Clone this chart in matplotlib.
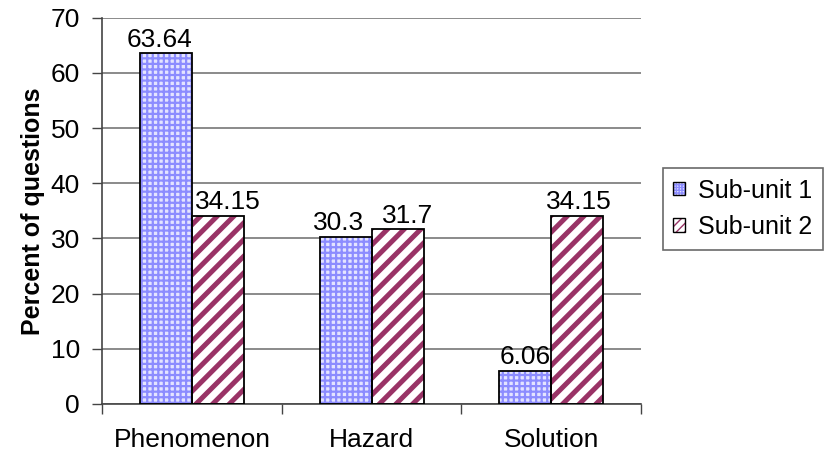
import numpy as np
import matplotlib.pyplot as plt

categories = ['Phenomenon', 'Hazard', 'Solution']
sub_unit_1 = [63.64, 30.3, 6.06]
sub_unit_2 = [34.15, 31.7, 34.15]
series_names = ['Sub-unit 1', 'Sub-unit 2']
y_ticks = [0, 10, 20, 30, 40, 50, 60, 70]

plt.rcParams['font.family'] = ['Liberation Sans', 'DejaVu Sans']

BLUE = '#8c8cff'
PLUM = '#993366'
FS = 19
# sideways nudge of the value labels, in points
nudge_1 = [-5, -5, 0]
nudge_2 = [7, 7, 1.5]


def hatch_lw(patch, lw):
    if hasattr(patch, 'set_hatch_linewidth'):
        patch.set_hatch_linewidth(lw)
    else:
        patch._hatch_linewidth = lw


fig = plt.figure(figsize=(8.25, 4.57), dpi=100)
ax = fig.add_axes([0.124, 0.116, 0.653, 0.845])

x = np.arange(len(categories))
width = 0.29

# hatched fills first, then plain black outlines on top
b1 = ax.bar(x - width / 2, sub_unit_1, width, facecolor='#e4e4ff',
            edgecolor=BLUE, hatch='+++', linewidth=0, zorder=2)
b2 = ax.bar(x + width / 2, sub_unit_2, width, facecolor='white',
            edgecolor=PLUM, hatch='//', linewidth=0, zorder=2)
for p in b1:
    hatch_lw(p, 1.6)
for p in b2:
    hatch_lw(p, 3.6)
ax.bar(x - width / 2, sub_unit_1, width, fill=False, edgecolor='black',
       linewidth=1.3, zorder=3)
ax.bar(x + width / 2, sub_unit_2, width, fill=False, edgecolor='black',
       linewidth=1.3, zorder=3)

for xs, vals, nudges in ((x - width / 2, sub_unit_1, nudge_1),
                         (x + width / 2, sub_unit_2, nudge_2)):
    for xi, v, dx in zip(xs, vals, nudges):
        ax.annotate(f'{v:g}', (xi, v), xytext=(dx, 1),
                    textcoords='offset points', ha='center', va='bottom',
                    fontsize=FS)

ax.set_xlim(-0.5, len(categories) - 0.5)
ax.set_ylim(0, 70)
ax.set_yticks(y_ticks)
ax.set_xticks(x)
ax.set_xticklabels(categories, fontsize=FS)
ax.set_xticks(np.arange(len(categories) + 1) - 0.5, minor=True)
ax.tick_params(axis='x', which='major', length=0, pad=17)
ax.tick_params(axis='x', which='minor', length=7, width=1, color='#444444')
ax.tick_params(axis='y', labelsize=FS, length=7, width=1, color='#444444',
               pad=9)
ax.set_ylabel('Percent of questions', fontsize=18, fontweight='bold',
              labelpad=4)

ax.yaxis.grid(True, color='#777777', linewidth=1.2, zorder=0)
ax.set_axisbelow(True)
for s in ('top', 'right'):
    ax.spines[s].set_visible(False)
for s in ('left', 'bottom'):
    ax.spines[s].set_color('#444444')
    ax.spines[s].set_linewidth(1.2)

# legend keys: hatched square with a black outline laid over it
h1 = plt.Rectangle((0, 0), 1, 1, facecolor='#e4e4ff', edgecolor=BLUE,
                   hatch='++++++', linewidth=0)
h2 = plt.Rectangle((0, 0), 1, 1, facecolor='white', edgecolor=PLUM,
                   hatch='////', linewidth=0)
hatch_lw(h2, 2.5)
o1 = plt.Rectangle((0, 0), 1, 1, fill=False, edgecolor='black', linewidth=1)
o2 = plt.Rectangle((0, 0), 1, 1, fill=False, edgecolor='black', linewidth=1)
leg = fig.legend([(h1, o1), (h2, o2)], series_names, loc='center left',
                 bbox_to_anchor=(0.8036, 0.543), fontsize=18, frameon=True,
                 fancybox=False, handlelength=0.45, handleheight=0.45,
                 handletextpad=0.55, borderpad=0.42, labelspacing=0.5,
                 borderaxespad=0)
leg.get_frame().set_edgecolor('#444444')
leg.get_frame().set_linewidth(1.2)

fig.savefig('out.png', dpi=100)
